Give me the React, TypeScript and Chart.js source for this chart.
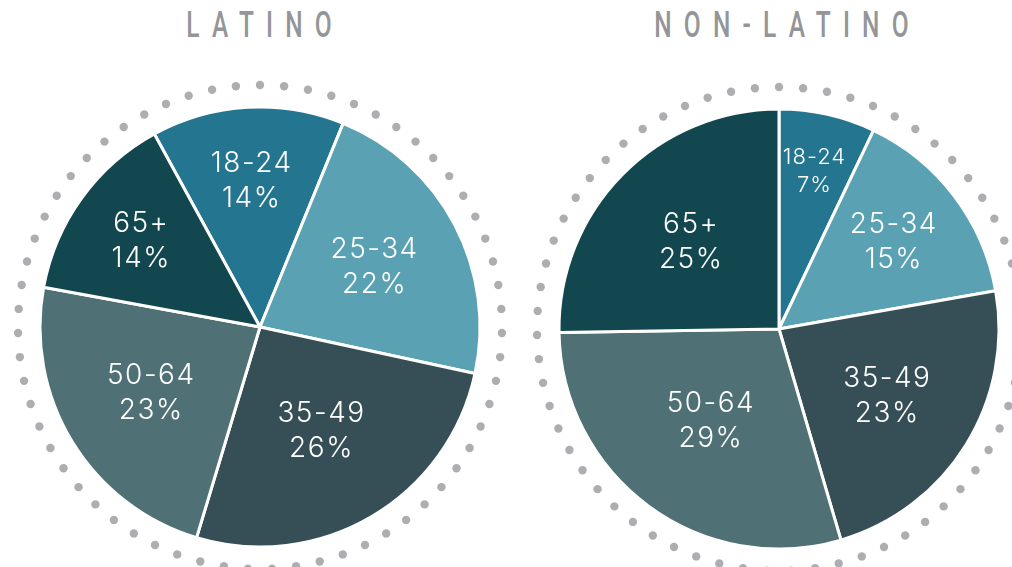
import React, { useEffect, useRef } from "react";
import { Chart, registerables } from "chart.js";

Chart.register(...registerables);

// ---- data ----
const ageGroups = ["18-24", "25-34", "35-49", "50-64", "65+"];
const latinoShares = [14, 22, 26, 23, 14];
const nonLatinoShares = [7, 15, 23, 29, 25];
const sliceColors = ["#247690", "#5aa1b3", "#364e55", "#4f7074", "#13474f"];
const chartTitles = ["LATINO", "NON-LATINO"];

const dottedRing = {
  id: "dottedRing",
  beforeDatasetsDraw(chart: any) {
    const arc = chart.getDatasetMeta(0).data[0];
    if (!arc) return;
    const { x, y, outerRadius } = arc.getProps(["x", "y", "outerRadius"], true);
    const r = outerRadius + 22;
    const n = 63;
    const ctx = chart.ctx;
    ctx.save();
    ctx.fillStyle = "#aeadb2";
    for (let i = 0; i < n; i++) {
      const a = -Math.PI / 2 + (i * 2 * Math.PI) / n;
      ctx.beginPath();
      ctx.arc(x + r * Math.cos(a), y + r * Math.sin(a), 4.2, 0, 2 * Math.PI);
      ctx.fill();
    }
    ctx.restore();
  },
};

const sliceLabels = {
  id: "sliceLabels",
  afterDatasetsDraw(chart: any) {
    const meta = chart.getDatasetMeta(0);
    const labels = chart.data.labels;
    const values = chart.data.datasets[0].data;
    const ctx = chart.ctx;
    ctx.save();
    ctx.fillStyle = "#ffffff";
    ctx.textAlign = "center";
    ctx.textBaseline = "middle";
    meta.data.forEach((arc: any, i: number) => {
      const { x, y, startAngle, endAngle, outerRadius } = arc.getProps(
        ["x", "y", "startAngle", "endAngle", "outerRadius"],
        true
      );
      const mid = (startAngle + endAngle) / 2;
      const pct = ((endAngle - startAngle) / (2 * Math.PI)) * 100;
      const f = 0.8 - 0.0095 * pct;
      const px = x + Math.cos(mid) * outerRadius * f;
      const py = y + Math.sin(mid) * outerRadius * f;
      const small = pct < 10;
      const size = small ? 22 : 28;
      const lh = small ? 28 : 35;
      ctx.font = `300 ${size}px Inter, Lato, "Open Sans", sans-serif`;
      (ctx as any).letterSpacing = small ? "1px" : "1.5px";
      ctx.fillText(String(labels[i]), px, py - lh / 2);
      ctx.fillText(values[i] + "%", px, py + lh / 2);
    });
    ctx.restore();
  },
};

function PieChart({ values, rotation }: { values: number[]; rotation: number }) {
  const ref = useRef<HTMLCanvasElement | null>(null);
  useEffect(() => {
    if (!ref.current) return;
    const chart = new Chart(ref.current, {
      type: "pie",
      data: {
        labels: ageGroups,
        datasets: [
          {
            data: values,
            backgroundColor: sliceColors,
            borderColor: "#ffffff",
            borderWidth: 3,
            radius: 220,
          } as any,
        ],
      },
      options: {
        responsive: false,
        animation: false,
        rotation,
        radius: 220,
        layout: { padding: 0 },
        plugins: {
          legend: { display: false },
          tooltip: { enabled: false },
          title: { display: false },
        },
        events: [],
      } as any,
      plugins: [dottedRing, sliceLabels],
    });
    return () => chart.destroy();
  }, [values, rotation]);
  return <canvas ref={ref} width={540} height={540} style={{ width: 540, height: 540 }} />;
}

const titleStyle: React.CSSProperties = {
  position: "absolute",
  top: 7,
  width: 400,
  textAlign: "center",
  fontFamily: 'Roboto, "DejaVu Sans", sans-serif',
  fontWeight: 500,
  fontSize: 36,
  lineHeight: "36px",
  letterSpacing: "18px",
  paddingLeft: 18,
  boxSizing: "border-box",
  color: "#939598",
  whiteSpace: "nowrap",
  transform: "scaleX(0.68)",
  transformOrigin: "center",
};

export default function App() {
  return (
    <div
      style={{
        position: "fixed",
        left: 0,
        top: 0,
        width: 1012,
        height: 567,
        overflow: "hidden",
        background: "#ffffff",
      }}
    >
      <div style={{ position: "absolute", left: -10, top: 57 }}>
        <PieChart values={latinoShares} rotation={-28.7} />
      </div>
      <div style={{ position: "absolute", left: 509, top: 59 }}>
        <PieChart values={nonLatinoShares} rotation={0} />
      </div>
      <div style={{ ...titleStyle, left: 259 - 200 }}>{chartTitles[0]}</div>
      <div style={{ ...titleStyle, left: 778 - 200 }}>{chartTitles[1]}</div>
    </div>
  );
}
